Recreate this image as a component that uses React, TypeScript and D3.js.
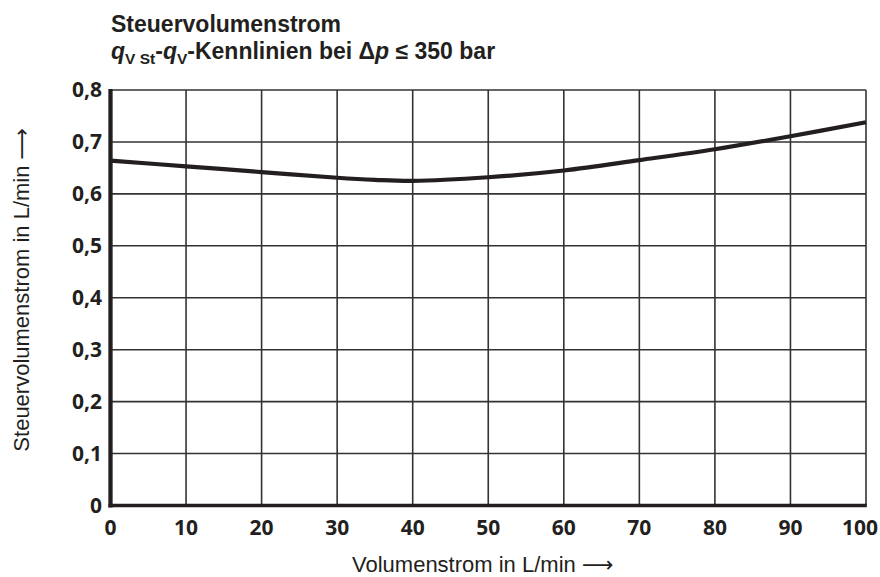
import React from "react";
import * as d3 from "d3";

const flowX = [0, 10, 20, 30, 35, 40, 50, 60, 70, 80, 90, 100];
const pilotFlow = [0.664, 0.653, 0.642, 0.631, 0.627, 0.625, 0.632, 0.645, 0.665, 0.686, 0.711, 0.738];
const xTicks = [0, 10, 20, 30, 40, 50, 60, 70, 80, 90, 100];
const yTicks = [0, 0.1, 0.2, 0.3, 0.4, 0.5, 0.6, 0.7, 0.8];
const yTickLabels = ["0", "0,1", "0,2", "0,3", "0,4", "0,5", "0,6", "0,7", "0,8"];

const W = 880;
const H = 577;
const left = 110.5;
const right = 866;
const top = 90;
const bottom = 505.5;
const ink = "#231f20";

export default function App() {
  const x = d3.scaleLinear().domain([0, 100]).range([left, right]);
  const y = d3.scaleLinear().domain([0, 0.8]).range([bottom, top]);
  const line = d3
    .line<number>()
    .x((_, i) => x(flowX[i]))
    .y((d) => y(d))
    .curve(d3.curveCatmullRom.alpha(0.5));
  const tickFont = "'Open Sans', 'Liberation Sans', sans-serif";
  const labelFont = "'Liberation Sans', Arial, sans-serif";
  const arrowFont = "'DejaVu Sans', sans-serif";

  return (
    <svg
      width={W}
      height={H}
      viewBox={`0 0 ${W} ${H}`}
      style={{ position: "absolute", left: 0, top: 0, background: "#fff" }}
    >
      {/* title */}
      <text x={111} y={31.5} fontFamily={labelFont} fontWeight={700} fontSize={23} fill={ink}>
        Steuervolumenstrom
      </text>
      <text x={111} y={58.5} fontFamily={labelFont} fontWeight={700} fontSize={23} fill={ink}>
        <tspan fontStyle="italic">q</tspan>
        <tspan fontSize={15.5} dy={5}>V St</tspan>
        <tspan dy={-5}>-</tspan>
        <tspan fontStyle="italic">q</tspan>
        <tspan fontSize={15.5} dy={5}>V</tspan>
        <tspan dy={-5}>-Kennlinien bei Δ</tspan>
        <tspan fontStyle="italic">p</tspan>
        <tspan> ≤ 350 bar</tspan>
      </text>

      {/* grid */}
      <g stroke="#333" strokeWidth={1.6}>
        {xTicks.slice(1).map((t) => (
          <line key={"gx" + t} x1={x(t)} x2={x(t)} y1={top} y2={bottom} />
        ))}
        {yTicks.slice(1).map((t) => (
          <line key={"gy" + t} x1={left} x2={right} y1={y(t)} y2={y(t)} />
        ))}
      </g>

      {/* axes */}
      <line x1={left} x2={left} y1={top - 1} y2={bottom + 2} stroke={ink} strokeWidth={4.3} />
      <line x1={left - 2} x2={right + 0.8} y1={bottom} y2={bottom} stroke={ink} strokeWidth={3.6} />

      {/* curve */}
      <path d={line(pilotFlow) || ""} fill="none" stroke={ink} strokeWidth={4.2} strokeLinecap="butt" />

      {/* y ticks */}
      {yTicks.map((t, i) => (
        <text
          key={"yt" + t}
          x={102}
          y={y(t)}
          dy="0.35em"
          textAnchor="end"
          fontFamily={tickFont}
          fontWeight={700}
          fontSize={21}
          fill={ink}
        >
          {yTickLabels[i]}
        </text>
      ))}

      {/* x ticks */}
      {xTicks.map((t, i) => (
        <text
          key={"xt" + t}
          x={i === xTicks.length - 1 ? x(t) - 6 : x(t)}
          y={535}
          textAnchor="middle"
          fontFamily={tickFont}
          fontWeight={700}
          fontSize={21}
          fill={ink}
        >
          {t}
        </text>
      ))}

      {/* axis labels */}
      <text x={352} y={572} fontFamily={labelFont} fontSize={22} fill={ink}>
        Volumenstrom in L/min{" "}
        <tspan fontFamily={arrowFont} fontSize={22}>⟶</tspan>
      </text>
      <text
        transform={`translate(29, ${(top + bottom) / 2 - 8}) rotate(-90)`}
        textAnchor="middle"
        fontFamily={labelFont}
        fontSize={22}
        fill={ink}
      >
        Steuervolumenstrom in L/min{" "}
        <tspan fontFamily={arrowFont} fontSize={22}>⟶</tspan>
      </text>
    </svg>
  );
}
